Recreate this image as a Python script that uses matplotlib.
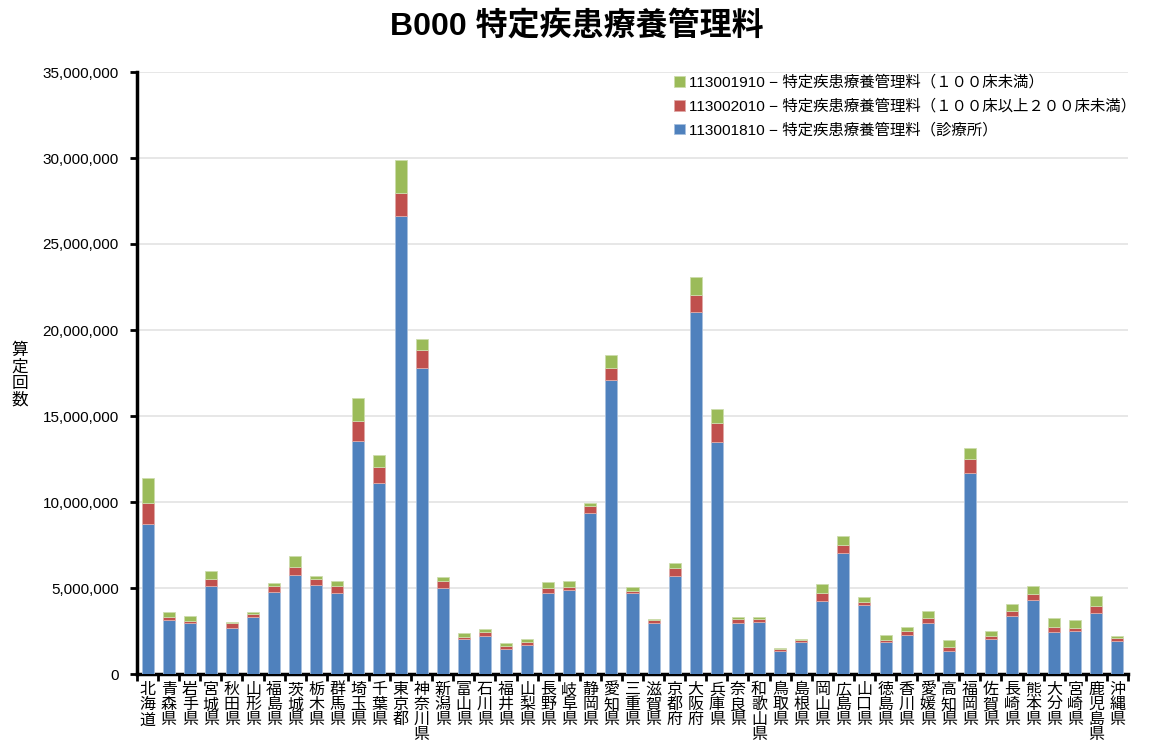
import numpy as np
import matplotlib
matplotlib.use("Agg")
import matplotlib.pyplot as plt
from matplotlib.ticker import FuncFormatter, FixedLocator

plt.rcParams['font.family'] = ['Liberation Sans', 'Noto Sans CJK JP']

prefs = ["北海道", "青森県", "岩手県", "宮城県", "秋田県", "山形県", "福島県", "茨城県",
         "栃木県", "群馬県", "埼玉県", "千葉県", "東京都", "神奈川県", "新潟県", "富山県",
         "石川県", "福井県", "山梨県", "長野県", "岐阜県", "静岡県", "愛知県", "三重県",
         "滋賀県", "京都府", "大阪府", "兵庫県", "奈良県", "和歌山県", "鳥取県", "島根県",
         "岡山県", "広島県", "山口県", "徳島県", "香川県", "愛媛県", "高知県", "福岡県",
         "佐賀県", "長崎県", "熊本県", "大分県", "宮崎県", "鹿児島県", "沖縄県"]

# 113001810 (clinic)
clinic = [8.70, 3.14, 2.98, 5.12, 2.66, 3.33, 4.77, 5.76, 5.17, 4.71, 13.56, 11.12,
          26.65, 17.81, 5.02, 2.02, 2.21, 1.45, 1.67, 4.69, 4.87, 9.34, 17.11, 4.69,
          2.95, 5.72, 21.05, 13.48, 2.98, 3.00, 1.34, 1.88, 4.23, 7.02, 4.01, 1.84,
          2.27, 2.97, 1.34, 11.70, 2.02, 3.39, 4.28, 2.46, 2.50, 3.53, 1.92]
# 113002010 (100-200 beds)
mid = [1.22, 0.19, 0.12, 0.39, 0.29, 0.16, 0.33, 0.48, 0.35, 0.39, 1.17, 0.91,
       1.33, 1.03, 0.41, 0.15, 0.25, 0.16, 0.21, 0.31, 0.19, 0.41, 0.70, 0.15,
       0.21, 0.46, 1.00, 1.13, 0.20, 0.20, 0.10, 0.08, 0.50, 0.48, 0.19, 0.12,
       0.23, 0.29, 0.23, 0.80, 0.19, 0.29, 0.39, 0.29, 0.19, 0.44, 0.19]
# 113001910 (<100 beds)
small = [1.46, 0.26, 0.27, 0.46, 0.07, 0.11, 0.21, 0.60, 0.20, 0.33, 1.30, 0.70,
         1.90, 0.65, 0.19, 0.21, 0.18, 0.19, 0.14, 0.35, 0.35, 0.21, 0.73, 0.22,
         0.04, 0.29, 1.01, 0.78, 0.13, 0.13, 0.07, 0.07, 0.50, 0.50, 0.26, 0.33,
         0.25, 0.42, 0.41, 0.66, 0.31, 0.37, 0.45, 0.49, 0.45, 0.58, 0.12]

labels = ["113001910 − 特定疾患療養管理料（１００床未満）",
          "113002010 − 特定疾患療養管理料（１００床以上２００床未満）",
          "113001810 − 特定疾患療養管理料（診療所）"]

c_blue, c_red, c_green = "#4F81BD", "#C0504D", "#9BBB59"

clinic = np.array(clinic) * 1e6
mid = np.array(mid) * 1e6
small = np.array(small) * 1e6
x = np.arange(len(prefs))

fig = plt.figure(figsize=(11.54, 7.49), dpi=100)
ax = fig.add_axes([137/1154, 1-674/749, (1128-137)/1154, (674-72)/749])

w = 0.57
b1 = ax.bar(x, clinic, w, color=c_blue, edgecolor="#A7C0DE", linewidth=0.6, zorder=3)
b2 = ax.bar(x, mid, w, bottom=clinic, color=c_red, edgecolor="#E0A9A7", linewidth=0.6, zorder=3)
b3 = ax.bar(x, small, w, bottom=clinic+mid, color=c_green, edgecolor="#CDDDAC", linewidth=0.6, zorder=3)

ax.set_xlim(-0.5, len(prefs)-0.5)
ax.set_ylim(0, 35e6)
ax.set_yticks(np.arange(0, 35e6+1, 5e6))
ax.yaxis.set_major_formatter(FuncFormatter(lambda v, p: f"{int(v):,}"))
ax.grid(axis='y', color="#E3E3E3", linewidth=1.2, zorder=0)

# category boundaries as major ticks, names on minor ticks
ax.xaxis.set_major_locator(FixedLocator(np.arange(-0.5, len(prefs), 1.0)))
ax.xaxis.set_major_formatter(FuncFormatter(lambda v, p: ""))
ax.set_xticks(x, minor=True)
ax.set_xticklabels(["\n".join(p) for p in prefs], minor=True, fontsize=11.5,
                   linespacing=1.0, va='top')
ax.tick_params(axis='x', which='minor', length=0, pad=6)
ax.tick_params(axis='x', which='major', length=5, width=2, direction='out')
ax.tick_params(axis='y', length=5, width=2, direction='out', labelsize=11, pad=8)

for s in ['top', 'right']:
    ax.spines[s].set_visible(False)
for s in ['left', 'bottom']:
    ax.spines[s].set_linewidth(2.5)

fig.text(20/1154, 1-375/749, "算\n定\n回\n数", fontsize=12, ha='center', va='center',
         linespacing=1.1)
fig.suptitle("B000 特定疾患療養管理料", fontsize=23, fontweight='bold', y=1-27/749, va='center')

leg = ax.legend([b3, b2, b1], labels, loc='upper left', bbox_to_anchor=(660/1154, 1-61/749),
                bbox_transform=fig.transFigure, frameon=False, fontsize=11.1,
                handlelength=0.7, handleheight=0.7, handletextpad=0.3, labelspacing=0.6)

fig.savefig("out.png", dpi=100)
